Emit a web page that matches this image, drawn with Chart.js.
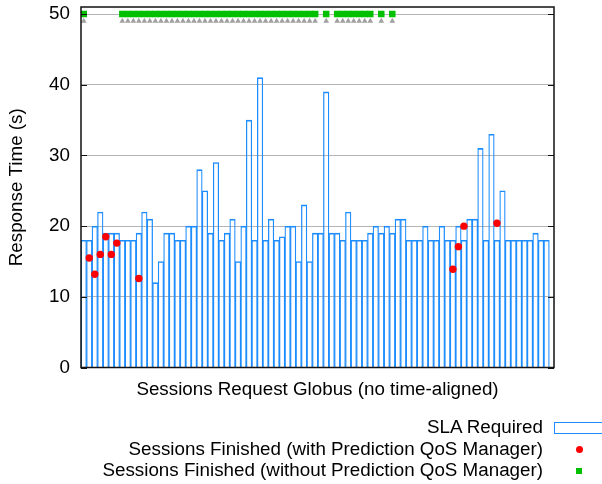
<!DOCTYPE html>
<html>
<head>
<meta charset="utf-8">
<script src="https://cdn.jsdelivr.net/npm/chart.js@4.4.1/dist/chart.umd.min.js"></script>
<style>
  body { margin: 0; background: #fff; }
  #wrap { position: relative; width: 602px; height: 484px; overflow: hidden; font-family: "Liberation Sans", Arial, sans-serif; }
  #key { position: absolute; left: 0; top: 416px; width: 602px; font-size: 18.8px; line-height: 21.7px; color: #000; }
  .row { position: relative; height: 21.7px; }
  .row span { position: absolute; right: 59px; top: 0; white-space: nowrap; }
  .mark { position: absolute; box-sizing: border-box; }
</style>
</head>
<body>
<div id="wrap">
  <canvas id="chart" width="602" height="484"></canvas>
  <div id="key"></div>
</div>
<script>
// SLA required per session request (one bar per request, left to right)
const slaRequired = [
  18, 18, 20, 22, 19, 19, 19, 18, 18, 18, 19, 22, 21, 12, 15, 19, 19, 18, 18, 20,
  20, 28, 25, 19, 29, 18, 19, 21, 15, 20, 35, 18, 41, 18, 21, 18, 18.5, 20, 20, 15,
  23, 15, 19, 19, 39, 19, 19, 18, 22, 18, 18, 18, 19, 20, 19, 20, 19, 21, 21, 18,
  18, 18, 20, 18, 18, 20, 18, 18, 20, 18, 21, 21, 31, 18, 33, 18, 25, 18, 18, 18,
  18, 18, 19, 18, 18
];
const sessions = slaRequired.map((v, i) => i + 1);

// finished with prediction QoS manager
const predictedIdx = [2, 3, 4, 5, 6, 7, 11, 68, 69, 70, 76];
const predictedTime = [15.5, 13.2, 16.0, 18.5, 16.0, 17.6, 12.6, 13.9, 17.1, 20.0, 20.4];

// finished without prediction QoS manager (pinned at the top of the plot)
const unpredictedIdx = [
  1, 8, 9, 10, 11, 12, 13, 14, 15, 16, 17, 18, 19, 20, 21, 22, 23, 24, 25, 26,
  27, 28, 29, 30, 31, 32, 33, 34, 35, 36, 37, 38, 39, 40, 41, 42, 43, 45, 47, 48,
  49, 50, 51, 52, 53, 55, 57
];
const unpredictedTime = [
  50, 50, 50, 50, 50, 50, 50, 50, 50, 50, 50, 50, 50, 50, 50, 50, 50, 50, 50, 50,
  50, 50, 50, 50, 50, 50, 50, 50, 50, 50, 50, 50, 50, 50, 50, 50, 50, 50, 50, 50,
  50, 50, 50, 50, 50, 50, 50
];
const failedTime = [
  49, 49, 49, 49, 49, 49, 49, 49, 49, 49, 49, 49, 49, 49, 49, 49, 49, 49, 49, 49,
  49, 49, 49, 49, 49, 49, 49, 49, 49, 49, 49, 49, 49, 49, 49, 49, 49, 49, 49, 49,
  49, 49, 49, 49, 49, 49, 49
];

const yTicks = [0, 10, 20, 30, 40, 50];

const BLUE = '#1c8cff';
const RED = '#ff0000';
const GREEN = '#00c000';
const GREY = '#a0a0a0';

Chart.defaults.font.family = "'Liberation Sans', Arial, sans-serif";
Chart.defaults.font.size = 18.8;
Chart.defaults.color = '#000';

const pts = (xs, ys) => xs.map((x, i) => ({ x: x, y: ys[i] }));

// black box round the plot + small inward tick marks on both sides
const frame = {
  id: 'frame',
  afterDatasetsDraw(chart) {
    const { ctx, chartArea: a, scales: { y } } = chart;
    ctx.save();
    ctx.strokeStyle = '#111';
    ctx.lineWidth = 1.5;
    ctx.strokeRect(a.left, a.top, a.right - a.left, a.bottom - a.top);
    ctx.lineWidth = 1;
    yTicks.forEach(v => {
      const py = Math.round(y.getPixelForValue(v)) + 0.5;
      ctx.beginPath();
      ctx.moveTo(a.left, py); ctx.lineTo(a.left + 6, py);
      ctx.moveTo(a.right, py); ctx.lineTo(a.right - 6, py);
      ctx.stroke();
    });
    ctx.restore();
  }
};

const chart = new Chart(document.getElementById('chart'), {
  type: 'bar',
  data: {
    datasets: [
      {
        label: 'SLA Required',
        data: pts(sessions, slaRequired),
        backgroundColor: 'rgba(255,255,255,0)',
        borderColor: BLUE,
        borderWidth: { left: 0.6, right: 0.6, top: 1, bottom: 0 },
        borderSkipped: false,
        barPercentage: 1,
        categoryPercentage: 1,
        order: 4
      },
      {
        type: 'scatter',
        label: 'Sessions Finished (with Prediction QoS Manager)',
        data: pts(predictedIdx, predictedTime),
        pointStyle: 'circle',
        pointRadius: 3.7,
        pointBorderWidth: 0,
        backgroundColor: RED,
        borderColor: RED,
        order: 1
      },
      {
        type: 'scatter',
        label: 'Sessions Finished (without Prediction QoS Manager)',
        data: pts(unpredictedIdx, unpredictedTime),
        pointStyle: 'rect',
        pointRadius: 4.6,
        pointBorderWidth: 0,
        backgroundColor: GREEN,
        borderColor: GREEN,
        order: 2
      },
      {
        type: 'scatter',
        label: 'failed',
        data: pts(unpredictedIdx, failedTime),
        pointStyle: 'triangle',
        pointRadius: 3.3,
        pointBorderWidth: 0,
        backgroundColor: GREY,
        borderColor: GREY,
        order: 3
      }
    ]
  },
  options: {
    responsive: false,
    devicePixelRatio: 1,
    animation: false,
    events: [],
    layout: { padding: { left: 0, right: 48, top: 7, bottom: 82.9 } },
    plugins: { legend: { display: false }, tooltip: { enabled: false } },
    scales: {
      x: {
        type: 'linear',
        min: 0.5,
        max: 86.35,
        offset: false,
        grid: { display: false, offset: false },
        border: { display: false },
        ticks: { display: false },
        title: { display: true, text: 'Sessions Request Globus (no time-aligned)', padding: 0 },
        afterFit: s => { s.height = 33.6; s.paddingLeft = 0; s.paddingRight = 0; }
      },
      y: {
        min: 0,
        max: 51,
        afterBuildTicks: s => { s.ticks = yTicks.map(v => ({ value: v })); },
        grid: { color: '#b4b4b4', lineWidth: 1, drawTicks: false },
        border: { display: false },
        ticks: { padding: 11 },
        title: { display: true, text: 'Response Time (s)', padding: { top: 6, bottom: 0 } },
        afterFit: s => { s.width = 81; s.paddingTop = 0; s.paddingBottom = 0; }
      }
    }
  },
  plugins: [frame]
});

// key under the plot: text right-aligned, sample on its right
const key = document.getElementById('key');
const keyMarks = [
  { w: 60, h: 11.6, left: 554, style: 'border:1px solid ' + BLUE },
  { w: 7, h: 7, left: 575.5, style: 'background:' + RED + ';border-radius:50%' },
  { w: 6, h: 6, left: 576, style: 'background:' + GREEN }
];
chart.data.datasets.slice(0, 3).forEach((ds, i) => {
  const row = document.createElement('div');
  row.className = 'row';
  const t = document.createElement('span');
  t.textContent = ds.label;
  row.appendChild(t);
  const m = keyMarks[i];
  const d = document.createElement('div');
  d.className = 'mark';
  d.style.cssText = `left:${m.left}px;top:${12 - m.h / 2}px;width:${m.w}px;height:${m.h}px;${m.style}`;
  row.appendChild(d);
  key.appendChild(row);
});
</script>
</body>
</html>
